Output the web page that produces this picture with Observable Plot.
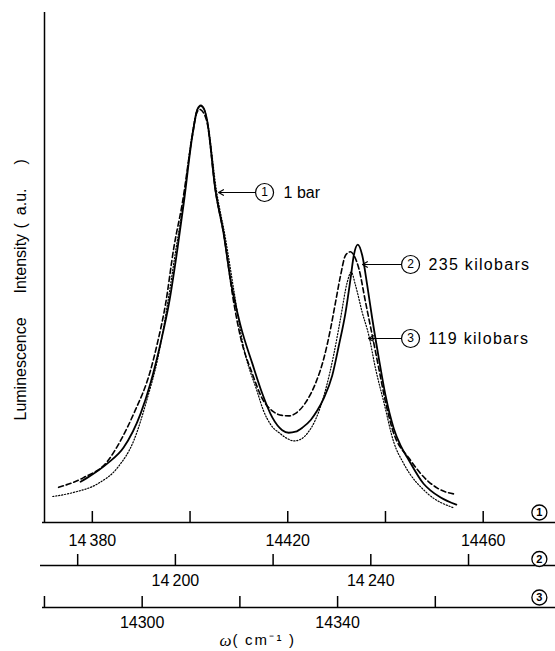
<!DOCTYPE html>
<html>
<head>
<meta charset="utf-8">
<script src="https://cdn.jsdelivr.net/npm/d3@7"></script>
<script src="https://cdn.jsdelivr.net/npm/@observablehq/plot@0.6"></script>
<style>
  body { margin: 0; background: #fff; }
  #chart svg { display: block; }
</style>
</head>
<body>
<div id="chart"></div>
<script>
// ---- Curves (x in cm^-1 on scale 1, intensity in a.u.) ----
const solidX = [14377.6, 14379.0, 14383.1, 14386.4, 14389.9, 14391.9, 14394.0, 14395.7, 14397.4, 14398.7, 14400.5, 14401.5, 14402.2, 14402.9, 14403.5, 14405.2, 14406.9, 14408.3, 14410.34, 14412.74, 14414.78, 14416.83, 14418.87, 14420.2, 14421.6, 14423.0, 14424.7, 14426.0, 14427.39, 14429.1, 14430.46, 14431.83, 14432.85, 14433.52, 14434.34, 14435.24, 14436.27, 14437.29, 14438.64, 14440.01, 14441.71, 14443.08, 14444.5, 14447.8, 14449.2, 14451.3, 14454.5];
const solidY = [8.0, 8.8, 11.6, 14.7, 21.4, 27.3, 35.3, 43.0, 53.5, 62.5, 76.0, 81.0, 81.8, 81.0, 78.8, 65.1, 56.5, 47.5, 38.6, 31.2, 25.3, 20.6, 18.1, 17.6, 17.8, 18.6, 20.1, 21.9, 24.4, 28.8, 34.7, 41.2, 47.8, 52.4, 54.5, 52.4, 46.5, 40.0, 32.2, 24.9, 18.4, 15.1, 12.7, 7.6, 6.3, 4.9, 3.5];

const dashedX = [14373.1, 14378.2, 14383.1, 14385.8, 14388.5, 14391.9, 14393.3, 14395.0, 14396.7, 14398.4, 14400.5, 14401.4, 14402.0, 14402.7, 14403.5, 14405.2, 14406.9, 14408.97, 14410.34, 14412.74, 14414.78, 14416.83, 14418.87, 14420.3, 14421.6, 14423.64, 14425.69, 14427.39, 14428.76, 14429.78, 14430.8, 14431.83, 14432.85, 14433.52, 14434.55, 14435.92, 14437.29, 14438.64, 14440.01, 14441.38, 14445.13, 14448.6, 14450.7, 14454.5];
const dashedY = [6.9, 8.8, 12.0, 16.1, 21.4, 29.8, 35.1, 42.9, 54.0, 62.5, 76.0, 80.4, 81.0, 80.4, 78.4, 65.1, 56.5, 43.0, 36.3, 29.2, 24.3, 21.9, 21.0, 20.9, 21.4, 23.5, 27.3, 32.2, 38.0, 43.2, 48.4, 52.4, 53.1, 52.4, 49.8, 43.2, 36.7, 30.2, 23.6, 18.4, 12.2, 8.2, 6.7, 5.5];

const dottedX = [14371.9, 14376.2, 14381.1, 14385.2, 14388.5, 14391.3, 14393.4, 14395.4, 14397.1, 14398.6, 14400.4, 14401.5, 14402.2, 14402.9, 14403.6, 14405.4, 14407.2, 14408.9, 14410.8, 14413.8, 14415.0, 14416.5, 14418.5, 14420.0, 14421.2, 14422.6, 14424.1, 14425.7, 14427.73, 14429.43, 14430.8, 14432.17, 14432.99, 14433.87, 14435.24, 14436.59, 14437.96, 14439.66, 14441.71, 14443.7, 14448.6, 14453.9];
const dottedY = [5.1, 5.9, 7.6, 10.8, 16.1, 24.5, 32.2, 42.9, 53.5, 62.5, 76.0, 81.0, 81.6, 81.0, 78.4, 65.1, 56.0, 45.9, 35.1, 25.5, 22.0, 19.2, 17.4, 16.4, 16.0, 16.3, 17.6, 20.2, 26.0, 33.0, 40.0, 47.1, 49.1, 46.5, 41.2, 36.7, 30.2, 23.6, 15.7, 11.6, 5.7, 2.9];

// ---- Axes ----
const xDomain = [14369.8, 14474.8];
const axis1Ticks = [14380, 14400, 14420, 14440, 14460];
const axis1LabelValues = [14380, 14420, 14460];
const axis1LabelText = ["14\u2009380", "14420", "14460"];
const axis2Offset = 197;
const axis2Ticks = [14180, 14200, 14220, 14240, 14260];
const axis2LabelValues = [14200, 14240];
const axis2LabelText = ["14\u2009200", "14\u2009240"];
const axis3Offset = 90.2;
const axis3Ticks = [14280, 14300, 14320, 14340, 14360];
const axis3LabelValues = [14300, 14340];
const axis3LabelText = ["14300", "14340"];
const axisNumbers = ["1", "2", "3"];
const axisNumberX = 14471.5;

// ---- Annotations ----
const annNum = ["1", "2", "3"];
const annText = ["1 bar", "235 kilobars", "119 kilobars"];
const annTipX = [14405.84, 14435.3, 14436.53];
const annTailX = [14413.41, 14443.28, 14443.28];
const annCircleX = [14415.25, 14445.13, 14445.13];
const annTextX = [14419.14, 14448.81, 14448.81];
const annY = [64.71, 50.59, 36.08];

const yTitleWords = ["Luminescence", "Intensity", "(\u2002a.u.\u2003\u2002)"];
const xTitleSymbol = "\u03C9";
const xTitleUnit = "(\u2009cm\u207B\u00B9\u2009)";

// ---- build ----
const mk = (X, Y) => X.map((x, i) => ({x, y: Y[i]}));
const solid = mk(solidX, solidY), dashed = mk(dashedX, dashedY), dotted = mk(dottedX, dottedY);
const ann = annNum.map((n, i) => ({n, t: annText[i], tip: annTipX[i], tail: annTailX[i], cx: annCircleX[i], tx: annTextX[i], y: annY[i]}));

const W = 555, H = 651, mT = 12, mB = 129;
const plotH = H - mT - mB;
const tickLen = 11;
const axisDy = [0, 43, 85];          // vertical offsets of the three scales
const labelDy = [18, 58.5, 100.5];   // tick label offsets
const circleDy = [-10, 36.5, 75];    // circled scale numbers
const yWordDy = [-102, -229, -294];  // y title word starts (from baseline)

const ticks = (vals, off, dy) => Plot.ruleX(vals, {x: d => d + off, insetTop: plotH - tickLen, dy, strokeWidth: 1.5});
const labels = (vals, txt, off, dy) => Plot.text(vals, {x: d => d + off, text: (d, i) => txt[i], frameAnchor: "bottom", lineAnchor: "middle", dy, fontSize: 16});

const chart = Plot.plot({
  width: W, height: H,
  marginLeft: 42, marginRight: 0, marginTop: mT, marginBottom: mB,
  x: {domain: xDomain, axis: null},
  y: {domain: [0, 100], axis: null},
  style: {background: "white", color: "black", fontFamily: "'Liberation Sans', Arial, Helvetica, sans-serif", overflow: "visible"},
  marks: [
    Plot.ruleX([xDomain[0]], {dx: 2, strokeWidth: 1.5}),
    Plot.ruleY([0], {dy: axisDy[0], strokeWidth: 1.5}),
    Plot.ruleY([0], {dy: axisDy[1], insetLeft: -2, strokeWidth: 1.5}),
    Plot.ruleY([0], {dy: axisDy[2], strokeWidth: 1.5}),
    ticks(axis1Ticks, 0, axisDy[0]),
    ticks(axis2Ticks, axis2Offset, axisDy[1]),
    ticks(axis3Ticks, axis3Offset, axisDy[2]),
    labels(axis1LabelValues, axis1LabelText, 0, labelDy[0]),
    labels(axis2LabelValues, axis2LabelText, axis2Offset, labelDy[1]),
    labels(axis3LabelValues, axis3LabelText, axis3Offset, labelDy[2]),
    ...axisNumbers.map((n, i) => Plot.dot([n], {x: () => axisNumberX, frameAnchor: "bottom", dy: circleDy[i], r: 7.5, stroke: "black", fill: "white", strokeWidth: 1.3})),
    ...axisNumbers.map((n, i) => Plot.text([n], {x: () => axisNumberX, text: d => d, frameAnchor: "bottom", lineAnchor: "middle", dy: circleDy[i], fontSize: 11, fontWeight: "bold"})),
    // curves
    Plot.line(dotted, {x: "x", y: "y", curve: "monotone-x", stroke: "black", strokeWidth: 1.2, strokeDasharray: "1.2,1.8"}),
    Plot.line(dashed, {x: "x", y: "y", curve: "monotone-x", stroke: "black", strokeWidth: 1.6, strokeDasharray: "5,3"}),
    Plot.line(solid, {x: "x", y: "y", curve: "monotone-x", stroke: "black", strokeWidth: 1.8}),
    // annotations
    Plot.arrow(ann, {x1: "tail", y1: "y", x2: "tip", y2: "y", headLength: 7, strokeWidth: 1.2, stroke: "black"}),
    Plot.dot(ann, {x: "cx", y: "y", r: 9, stroke: "black", fill: "white", strokeWidth: 1.2}),
    Plot.text(ann, {x: "cx", y: "y", text: "n", fontSize: 12}),
    Plot.text(ann, {x: "tx", y: "y", text: "t", textAnchor: "start", fontSize: 16}),
    // titles
    ...yTitleWords.map((w, i) => Plot.text([w], {frameAnchor: "bottom-left", dx: -22, dy: yWordDy[i], rotate: -90, textAnchor: "start", lineAnchor: "middle", fontSize: 16})),
    Plot.text([xTitleSymbol], {frameAnchor: "bottom-left", lineAnchor: "middle", dx: 177, dy: 118, fontSize: 17, fontStyle: "italic", fontFamily: "'Liberation Serif', serif"}),
    Plot.text([xTitleUnit], {frameAnchor: "bottom-left", lineAnchor: "middle", dx: 190, dy: 118, textAnchor: "start", fontSize: 15})
  ]
});
chart.querySelectorAll("text").forEach(t => {
  if (t.textContent.includes("kilobars")) t.style.letterSpacing = "1.3px";
  if (t.textContent.includes("cm")) t.style.letterSpacing = "2.2px";
});
document.getElementById("chart").appendChild(chart);
</script>
</body>
</html>
